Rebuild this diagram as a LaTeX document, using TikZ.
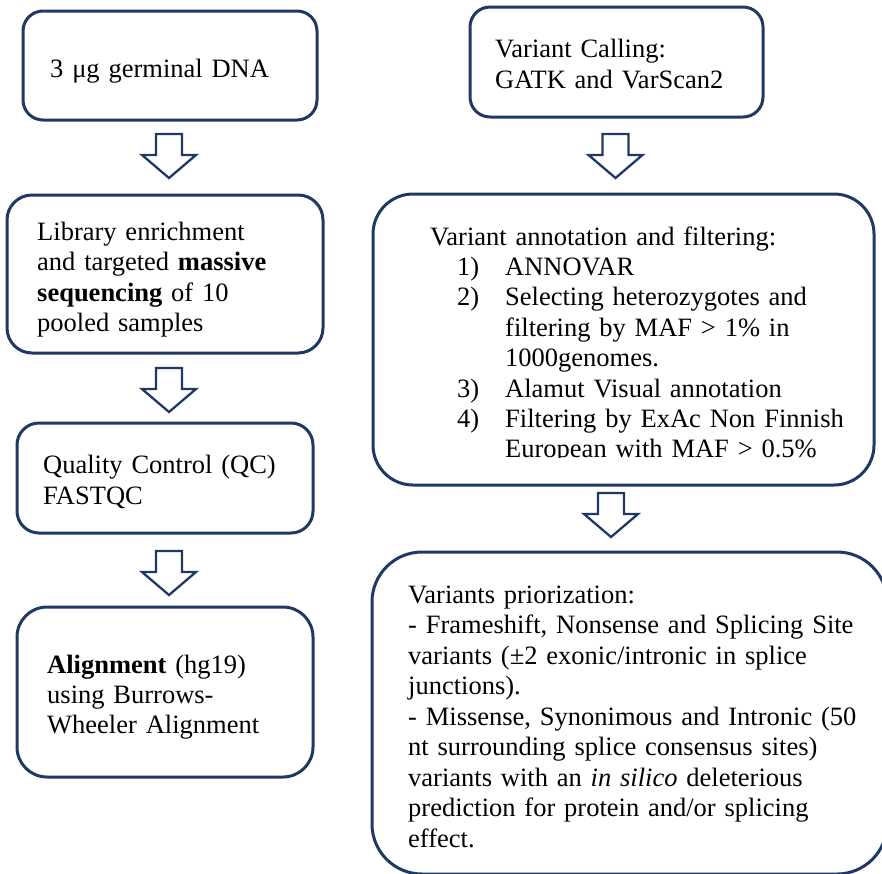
\documentclass[tikz,border=0pt]{standalone}
\usepackage{fontspec}
\setmainfont{Liberation Serif}
\definecolor{navy}{RGB}{31,56,100}
\tikzset{
  box/.style={draw=navy, line width=3pt, fill=white, rectangle, inner sep=0pt},
  txt/.style={font=\fontsize{26.5}{#1}\selectfont, inner sep=0pt, text width=475pt, align=left, anchor=base west},
  txt/.default=30.5,
  arrowline/.style={draw=navy, line width=2.3pt, fill=white, line join=miter},
  downarrow/.pic={\path[arrowline] (-13,0) -- (13,0) -- (13,21) -- (27,21) -- (0,44) -- (-27,21) -- (-13,21) -- cycle;}
}
\begin{document}
\begin{tikzpicture}[x=1pt, y=-1pt]
\useasboundingbox (0,0) rectangle (882,873);
\clip (0,0) rectangle (882,873);
% left column boxes
\node[box, rounded corners=20pt, minimum width=294pt, minimum height=109pt] (b1) at (170,65.5) {};
\node[box, rounded corners=25pt, minimum width=316pt, minimum height=158pt] (b2) at (165,274) {};
\node[box, rounded corners=22pt, minimum width=296pt, minimum height=110pt] (b3) at (165,478) {};
\node[box, rounded corners=30pt, minimum width=296pt, minimum height=170pt] (b4) at (165,692) {};
% right column boxes
\node[box, rounded corners=20pt, minimum width=293pt, minimum height=110pt] (b5) at (616.5,62) {};
\node[box, rounded corners=40pt, minimum width=501pt, minimum height=291pt] (b6) at (623.5,339.5) {};
\node[box, rounded corners=50pt, minimum width=515pt, minimum height=322pt] (b7) at (629.5,713) {};
% block arrows
\pic at (169,134) {downarrow};
\pic at (169,368) {downarrow};
\pic at (169,551) {downarrow};
\pic at (615.5,134) {downarrow};
\pic at (611,493) {downarrow};
% texts
\node[txt] (t1) at (50,77) {3 μg germinal DNA};
\node[txt] (t2) at (37,240) {Library enrichment\\and targeted \textbf{massive}\\\textbf{sequencing} of 10\\pooled samples};
\node[txt=31] (t3) at (43,473) {Quality Control (QC)\\FASTQC};
\node[txt=30] (t4) at (47,673) {\textbf{Alignment} (hg19)\\using Burrows-\\Wheeler Alignment};
\node[txt=31.5] (t5) at (495,57) {Variant Calling:\\GATK and VarScan2};
\begin{scope}
\clip (378,200) rectangle (868,457.5);
\node[txt=30.4] (t6) at (430,245) {Variant annotation and filtering:\\
\hspace*{27pt}\makebox[48pt][l]{1)}ANNOVAR\\
\hspace*{27pt}\makebox[48pt][l]{2)}Selecting heterozygotes and\\
\hspace*{75pt}filtering by MAF > 1\% in\\
\hspace*{75pt}1000genomes.\\
\hspace*{27pt}\makebox[48pt][l]{3)}Alamut Visual annotation\\
\hspace*{27pt}\makebox[48pt][l]{4)}Filtering by ExAc Non Finnish\\
\hspace*{75pt}European with MAF > 0.5\%};
\end{scope}
\node[txt] (t7) at (408,603) {Variants priorization:\\
- Frameshift, Nonsense and Splicing Site\\
variants (±2 exonic/intronic in splice\\
junctions).\\
- Missense, Synonimous and Intronic (50\\
nt surrounding splice consensus sites)\\
variants with an \textit{in silico} deleterious\\
prediction for protein and/or splicing\\
effect.};
\end{tikzpicture}
\end{document}
